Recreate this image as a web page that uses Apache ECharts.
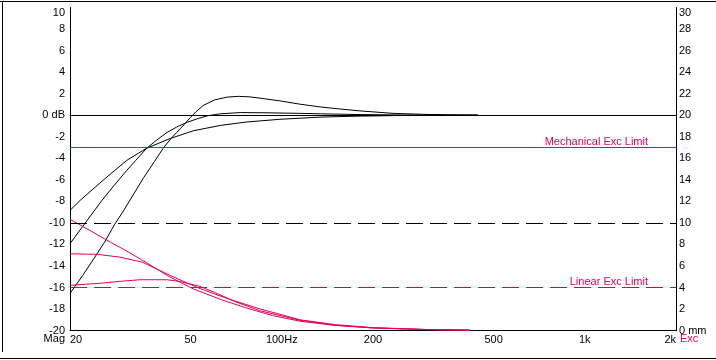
<!DOCTYPE html>
<html><head><meta charset="utf-8">
<script src="https://cdn.jsdelivr.net/npm/echarts@6/dist/echarts.min.js"></script>
<style>html,body{margin:0;padding:0;background:#fff}#c{width:716px;height:360px}</style>
</head><body><div id="c"></div>
<script>
// ---- data ----
const xTicks = [20, 50, 100, 200, 500, 1000, 2000];
const xTickLabels = ['20', '50', '100Hz', '200', '500', '1k', '2k'];

// Magnitude curves (dB, left axis)
const magA_f  = [20, 22, 24, 26, 28, 30, 32, 35, 38, 40.6, 43, 45, 47.5, 49.8, 52, 55, 60, 66, 72, 78.5, 88, 98.6, 115, 133.6, 155, 181, 233, 293, 350, 444];
const magA_db = [-16.56, -14.9, -13.3, -11.8, -10.2, -8.9, -7.6, -5.8, -4.3, -3.07, -2.2, -1.6, -0.9, -0.25, 0.3, 0.9, 1.42, 1.68, 1.75, 1.7, 1.52, 1.33, 1.02, 0.77, 0.58, 0.40, 0.17, 0.08, 0.04, 0];

const magB_f  = [20, 22, 25.5, 28, 30.8, 33, 35.8, 38.5, 41.8, 45, 48.8, 53, 57, 62.7, 72.9, 90, 115, 134, 177, 250, 444];
const magB_db = [-11.93, -10.35, -7.91, -6.5, -5.12, -4.18, -3.07, -2.35, -1.6, -1.1, -0.65, -0.3, -0.05, 0.13, 0.24, 0.22, 0.17, 0.13, 0.06, 0.02, 0];

const magC_f  = [20, 21.6, 25.7, 30.8, 35.8, 42.8, 51, 62.7, 76, 98.6, 133.6, 177, 246, 444];
const magC_db = [-8.84, -7.91, -6.05, -4.19, -3.07, -2.17, -1.45, -0.95, -0.64, -0.38, -0.18, -0.09, -0.03, 0];

// Excursion curves (mm, right axis)
const exc1_f  = [20, 23.8, 27.2, 30.8, 35.8, 42.8, 51, 62.7, 76, 93, 115, 150, 200, 300, 417];
const exc1_mm = [10.33, 9.14, 8.21, 7.38, 6.3, 4.96, 3.88, 2.9, 2.12, 1.40, 0.87, 0.48, 0.24, 0.09, 0.04];

const exc2_f  = [20, 24.6, 29.2, 34.7, 42.8, 53.7, 66, 84.5, 115, 150, 200, 300, 417];
const exc2_mm = [7.13, 7.08, 6.82, 6.35, 5.12, 3.9, 2.98, 2.02, 1.0, 0.55, 0.27, 0.1, 0.04];

const exc3_f  = [20, 25.3, 30, 34.1, 41.8, 46.2, 53.7, 60, 70, 84.5, 115, 150, 200, 300, 417];
const exc3_mm = [4.2, 4.4, 4.6, 4.72, 4.72, 4.55, 4.1, 3.55, 2.7, 1.85, 0.95, 0.5, 0.25, 0.1, 0.04];

// Reference lines
const zeroDb = 0;
const refDb = -10;
const mechLimitMm = 17;
const linearLimitMm = 4;

// ---- styling ----
const FONT = 'Liberation Sans, Arial, sans-serif';
const PINK = '#e4005a';
const RED = '#e4002a';
const X_MIN = Math.log10(xTicks[0]);
const X_MAX = Math.log10(xTicks[xTicks.length - 1]);
const GRID_TOP = 7.5;
const GRID_H = 30 * 140 / 13;          // keeps the limit lines on pixel centres
const GRID_BOTTOM = 360 - GRID_TOP - GRID_H;

const toXY = (f, v) => f.map((x, i) => [Math.log10(x), v[i]]);

const chart = echarts.init(document.getElementById('c'), null, {renderer: 'canvas'});

const lineSeries = (name, data, color, yIdx) => ({
  name, type: 'line', data, yAxisIndex: yIdx, symbol: 'none', smooth: false,
  itemStyle: {color}, lineStyle: {color, width: 1}, silent: true, animation: false, z: 3
});

const blackLine = (value, type) => ({
  silent: true, symbol: 'none', animation: false,
  lineStyle: {color: '#000', type, width: 1, opacity: 1},
  label: {show: false},
  data: [{yAxis: value}]
});

// horizontal limit line drawn as a two-point series across the full axis range
const limitSeries = (name, value, color, type, text) => ({
  name, type: 'line', yAxisIndex: 1, symbol: 'none', silent: true, animation: false, z: 2,
  data: [[X_MIN, value], [X_MAX, value]],
  itemStyle: {color}, lineStyle: {color, type, width: 1},
  endLabel: {show: true, formatter: text, color: PINK, fontSize: 11, fontFamily: FONT,
             align: 'right', verticalAlign: 'middle', distance: 5, offset: [-33, -6]}
});

const sA = lineSeries('magA', toXY(magA_f, magA_db), '#000', 0);
sA.markLine = blackLine(zeroDb, 'solid');
const sB = lineSeries('magB', toXY(magB_f, magB_db), '#000', 0);
sB.markLine = blackLine(refDb, [17, 7]);

const axisLineStyle = {show: true, lineStyle: {color: '#000', width: 1}};

const option = {
  backgroundColor: '#fff',
  animation: false,
  textStyle: {fontFamily: FONT},
  grid: {left: 70, right: 40, top: GRID_TOP, bottom: GRID_BOTTOM, show: false, containLabel: false},
  xAxis: [
    {
      type: 'value', min: X_MIN, max: X_MAX, position: 'bottom',
      axisLine: axisLineStyle, axisTick: {show: false}, splitLine: {show: false},
      axisLabel: {
        customValues: xTicks.map(v => Math.log10(v)),
        formatter: v => { const i = xTicks.findIndex(t => Math.abs(Math.log10(t) - v) < 1e-6); return i >= 0 ? xTickLabels[i] : ''; },
        color: '#000', fontSize: 11, fontFamily: FONT, margin: 4,
        alignMinLabel: 'left', alignMaxLabel: 'right', showMinLabel: true, showMaxLabel: true, hideOverlap: false
      }
    },
    {
      type: 'value', min: X_MIN, max: X_MAX, position: 'top',
      axisLine: axisLineStyle, axisTick: {show: false}, splitLine: {show: false}, axisLabel: {show: false}
    }
  ],
  yAxis: [
    {
      type: 'value', min: -20, max: 10, interval: 2, position: 'left',
      axisLine: axisLineStyle, axisTick: {show: false}, splitLine: {show: false},
      axisLabel: {formatter: v => v === 0 ? '0 dB' : String(v), color: '#000', fontSize: 11, fontFamily: FONT, margin: 5,
                  verticalAlignMaxLabel: 'top'}
    },
    {
      type: 'value', min: 0, max: 30, interval: 2, position: 'right',
      axisLine: axisLineStyle, axisTick: {show: false}, splitLine: {show: false},
      axisLabel: {formatter: v => v === 0 ? '0 mm' : String(v), color: '#000', fontSize: 11, fontFamily: FONT, margin: 3,
                  verticalAlignMaxLabel: 'top'}
    }
  ],
  series: [
    limitSeries('mechLimit', mechLimitMm, PINK, 'solid', 'Mechanical Exc Limit'),
    limitSeries('linearLimit', linearLimitMm, RED, [17, 7], 'Linear Exc Limit'),
    sA, sB,
    lineSeries('magC', toXY(magC_f, magC_db), '#000', 0),
    lineSeries('exc1', toXY(exc1_f, exc1_mm), PINK, 1),
    lineSeries('exc2', toXY(exc2_f, exc2_mm), PINK, 1),
    lineSeries('exc3', toXY(exc3_f, exc3_mm), PINK, 1)
  ],
  graphic: [
    {type: 'text', right: 716 - 65, top: 333, style: {text: 'Mag', fill: '#000', font: '11px ' + FONT}, silent: true},
    {type: 'text', left: 680, top: 333, style: {text: 'Exc', fill: PINK, font: '11px ' + FONT}, silent: true},
    {type: 'line', shape: {x1: 0, y1: 1.5, x2: 716, y2: 1.5}, style: {stroke: '#000', lineWidth: 1}, silent: true},
    {type: 'line', shape: {x1: 2.5, y1: 1.5, x2: 2.5, y2: 352}, style: {stroke: '#000', lineWidth: 1}, silent: true},
    {type: 'line', shape: {x1: 0, y1: 358.5, x2: 716, y2: 358.5}, style: {stroke: '#000', lineWidth: 1}, silent: true}
  ]
};
chart.setOption(option);
</script>
</body></html>
